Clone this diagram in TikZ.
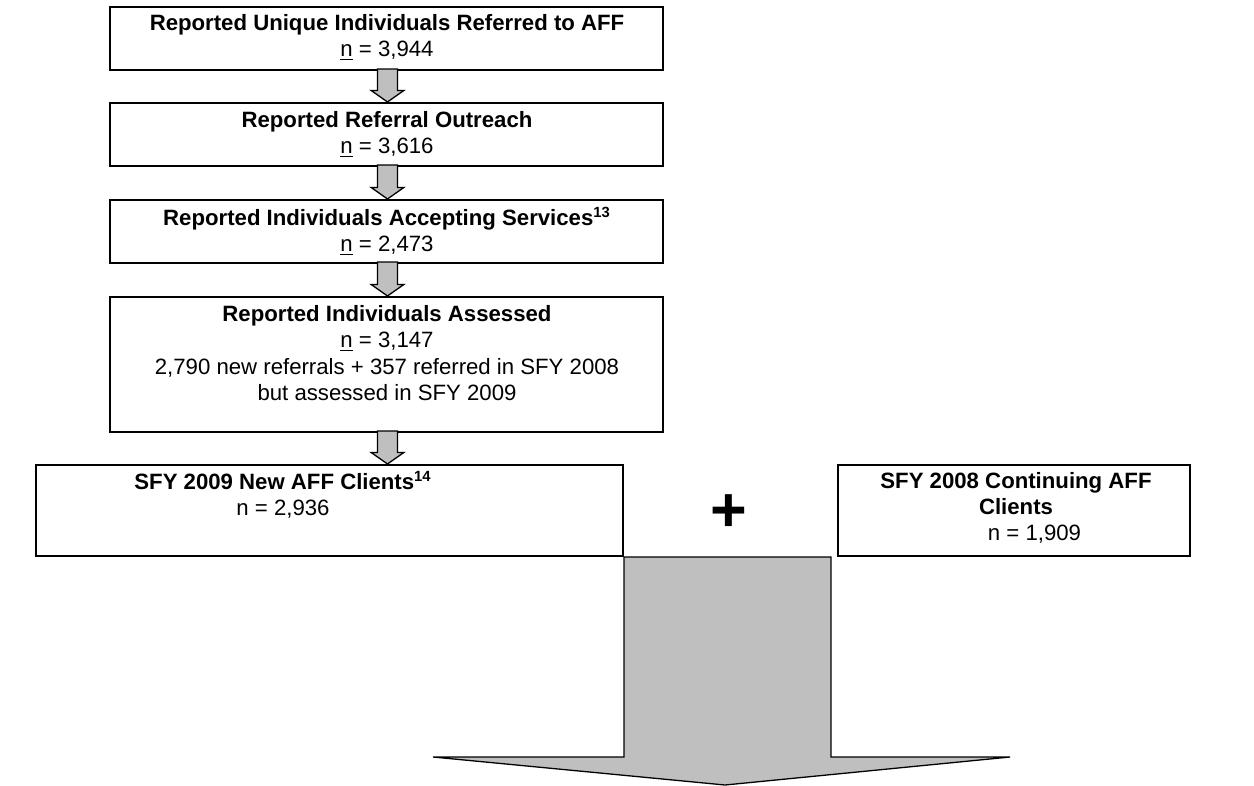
\documentclass[tikz,border=0pt]{standalone}
\usepackage{fontspec}
\setmainfont{Liberation Sans}
\usetikzlibrary{calc,fit}
\begin{document}
\begin{tikzpicture}[x=0.541pt,y=-0.541pt,
  box/.style={draw=black,line width=1.1pt,inner sep=0pt,fill=white},
  txt/.style={align=center,inner sep=0pt,font=\fontsize{12}{14.2}\selectfont},
  blockarrow/.style={draw=black,line width=0.7pt,fill=gray!50!white,line join=miter}]
\useasboundingbox (0,0) rectangle (1254,785);
% boxes
\node[box,fit={(110,7) (663,70)}] (b1) {};
\node[box,fit={(110,103) (663,166)}] (b2) {};
\node[box,fit={(110,200) (663,263)}] (b3) {};
\node[box,fit={(110,297) (663,432)}] (b4) {};
\node[box,fit={(36,465) (623,556)}] (b5) {};
\node[box,fit={(838,465) (1190,556)}] (b6) {};
% texts
\node[txt] (t1) at (387,37) {\textbf{Reported Unique Individuals Referred to AFF}\\\underline{n} = 3,944};
\node[txt] (t2) at (387,134) {\textbf{Reported Referral Outreach}\\\underline{n} = 3,616};
\node[txt] (t3) at (387,231) {\textbf{Reported Individuals Accepting Services\textsuperscript{13}}\\\underline{n} = 2,473};
\node[txt] (t4) at (387,353) {\textbf{Reported Individuals Assessed}\\\underline{n} = 3,147\\2,790 new referrals + 357 referred in SFY 2008\\but assessed in SFY 2009};
\node[txt] (t5) at (283,495) {\textbf{SFY 2009 New AFF Clients\textsuperscript{14}}\\n = 2,936};
\node[txt] (t6) at (1016,508) {\textbf{SFY 2008 Continuing AFF}\\\textbf{Clients}\\\hspace*{20pt}n = 1,909};
\node[inner sep=0pt,font=\fontsize{34}{34}\selectfont\bfseries] (plus) at (729,513) {+};
% small block arrows
\newcommand\blockdown[2]{%
  \path (#1) coordinate (ta) (#2) coordinate (tb);
  \draw[blockarrow] let \p1=(ta), \p2=(tb) in
    (\x1-5.4pt,\y1) -- (\x1-5.4pt,\y2+6.2pt) -- (\x1-8.8pt,\y2+6.2pt) -- (\x1,\y2)
    -- (\x1+8.8pt,\y2+6.2pt) -- (\x1+5.4pt,\y2+6.2pt) -- (\x1+5.4pt,\y1) -- cycle;}
\blockdown{$(b1.south)+(1,-2)$}{$(b2.north)+(1,0)$}
\blockdown{$(b2.south)+(1,-2)$}{$(b3.north)+(1,0)$}
\blockdown{$(b3.south)+(1,-2)$}{$(b4.north)+(1,0)$}
\blockdown{$(b4.south)+(1,-2)$}{$(b5.north)+(1,0)$}
% big arrow
\coordinate (bl) at (b5.south east);
\coordinate (br) at ($(b6.south west)+(-6,0)$);
\draw[blockarrow] let \p1=(bl), \p2=(br) in
  (bl) -- (\x1,757) -- (433,757) -- (725,785) -- (1010,757) -- (\x2,757) -- (br) -- cycle;
\end{tikzpicture}
\end{document}
